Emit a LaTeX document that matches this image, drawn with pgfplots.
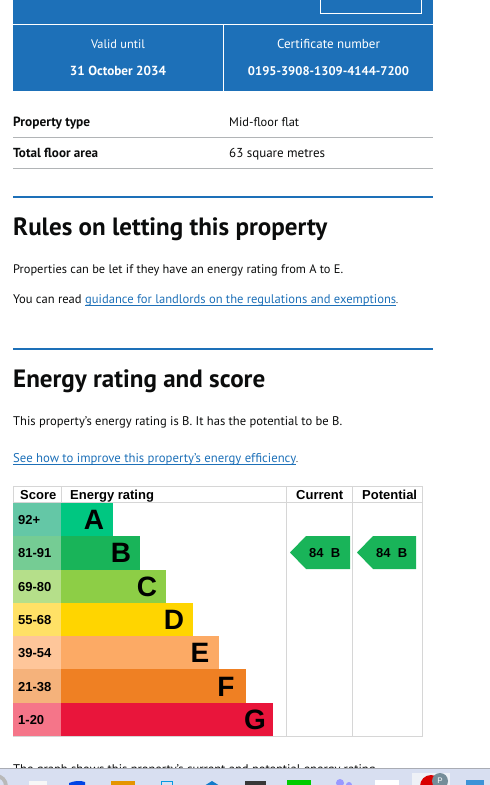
\documentclass[border=0pt]{standalone}
\usepackage{graphicx}
\usepackage{fontspec}
\setmainfont{PT Sans}
\newfontfamily\arial{Liberation Sans}
\usepackage{pgfplots}
\pgfplotsset{compat=1.18}
\definecolor{gblue}{HTML}{1D70B8}
\definecolor{gtext}{HTML}{0B0C0C}
\definecolor{ggrey}{HTML}{B1B4B6}
\definecolor{grid}{HTML}{D6D6D6}
\definecolor{dA}{HTML}{00C781}\definecolor{lA}{HTML}{64C7A6}
\definecolor{dB}{HTML}{19B459}\definecolor{lB}{HTML}{75CC94}
\definecolor{dC}{HTML}{8DCE46}\definecolor{lC}{HTML}{B5DF8A}
\definecolor{dD}{HTML}{FFD500}\definecolor{lD}{HTML}{FFE166}
\definecolor{dE}{HTML}{FCAA65}\definecolor{lE}{HTML}{FEC69A}
\definecolor{dF}{HTML}{EF8023}\definecolor{lF}{HTML}{F5B27B}
\definecolor{dG}{HTML}{E9153B}\definecolor{lG}{HTML}{F57589}
\definecolor{tbar}{HTML}{D8DFF1}
\definecolor{tline}{HTML}{A9ACB4}
% x, baseline y, target width, colour, font, text
\newcommand{\T}[6]{\node[anchor=base west,inner sep=0pt,text=#4] at (axis cs:#1,#2) {\resizebox{#3pt}{!}{#5#6}};}
\newcommand{\C}[6]{\node[anchor=base,inner sep=0pt,text=#4] at (axis cs:#1,#2) {\resizebox{#3pt}{!}{#5#6}};}
\newcommand{\A}[4]{\node[anchor=base west,inner sep=0pt,text=black] at (axis cs:#1,#2) {\arial\fontsize{#3}{#3}\selectfont\bfseries #4};}
\pgfplotsset{page/.style={hide axis,scale only axis,clip=true,y dir=reverse}}
\begin{document}
\begin{tikzpicture}[x=1pt,y=1pt]
\begin{axis}[page,at={(0pt,0pt)},anchor=south west,width=490pt,height=785pt,xmin=0,xmax=490,ymin=0,ymax=785]
% blue certificate banner
\fill[gblue] (axis cs:13,0) rectangle (axis cs:433,91);
\draw[white,line width=0.8pt] (axis cs:13,24.5) -- (axis cs:433,24.5);
\draw[white,line width=0.8pt] (axis cs:223.5,24.5) -- (axis cs:223.5,91);
\draw[white,line width=0.7pt] (axis cs:320.5,-2) -- (axis cs:320.5,13.5) -- (axis cs:421.5,13.5) -- (axis cs:421.5,-2);
\C{118}{48}{54}{white}{\fontsize{13}{13}\selectfont}{Valid until}
\C{118}{75}{96}{white}{\fontsize{13}{13}\selectfont\bfseries}{31 October 2034}
\C{328.5}{48}{103}{white}{\fontsize{13}{13}\selectfont}{Certificate number}
\C{328.5}{75}{161}{white}{\fontsize{13}{13}\selectfont\bfseries}{0195-3908-1309-4144-7200}
% property table
\T{13}{126}{77}{gtext}{\fontsize{13}{13}\selectfont\bfseries}{Property type}
\T{229}{126}{70}{gtext}{\fontsize{13}{13}\selectfont}{Mid-floor flat}
\draw[ggrey,line width=0.8pt] (axis cs:13,137.5) -- (axis cs:433,137.5);
\T{13}{157}{85}{gtext}{\fontsize{13}{13}\selectfont\bfseries}{Total floor area}
\T{229}{157}{96}{gtext}{\fontsize{13}{13}\selectfont}{63 square metres}
\draw[ggrey,line width=0.8pt] (axis cs:13,168.5) -- (axis cs:433,168.5);
% sections
\fill[gblue] (axis cs:13,196) rectangle (axis cs:433,198);
\T{13}{235}{314}{gtext}{\fontsize{24}{24}\selectfont\bfseries}{Rules on letting this property}
\T{13}{273}{330}{gtext}{\fontsize{13}{13}\selectfont}{Properties can be let if they have an energy rating from A to E.}
\T{13}{303}{68.5}{gtext}{\fontsize{13}{13}\selectfont}{You can read}
\T{85}{303}{311}{gblue}{\fontsize{13}{13}\selectfont}{guidance for landlords on the regulations and exemptions}
\T{396}{303}{2}{gtext}{\fontsize{13}{13}\selectfont}{.}
\draw[gblue,line width=0.7pt] (axis cs:85,305.5) -- (axis cs:396,305.5);
\fill[gblue] (axis cs:13,348) rectangle (axis cs:433,350);
\T{13}{387}{252}{gtext}{\fontsize{24}{24}\selectfont\bfseries}{Energy rating and score}
\T{13}{425}{329}{gtext}{\fontsize{13}{13}\selectfont}{This property’s energy rating is B. It has the potential to be B.}
\T{13}{462}{283}{gblue}{\fontsize{13}{13}\selectfont}{See how to improve this property’s energy efficiency}
\T{296}{462}{2}{gtext}{\fontsize{13}{13}\selectfont}{.}
\draw[gblue,line width=0.7pt] (axis cs:13,464.5) -- (axis cs:296,464.5);
% table grid of the EPC graph
\draw[grid,line width=0.8pt] (axis cs:13,486.5) -- (axis cs:423,486.5);
\draw[grid,line width=0.8pt] (axis cs:13,502.5) -- (axis cs:423,502.5);
\draw[grid,line width=0.8pt] (axis cs:13,736.5) -- (axis cs:423,736.5);
\draw[grid,line width=0.8pt] (axis cs:13,486) -- (axis cs:13,503);
\draw[grid,line width=0.8pt] (axis cs:61,486) -- (axis cs:61,503);
\draw[grid,line width=0.8pt] (axis cs:286.5,486) -- (axis cs:286.5,737);
\draw[grid,line width=1pt] (axis cs:352.5,486) -- (axis cs:352.5,737);
\draw[grid,line width=0.8pt] (axis cs:422.5,486) -- (axis cs:422.5,737);
\A{20}{499}{13}{Score}
\A{70}{499}{13}{Energy rating}
\A{296}{499}{13}{Current}
\A{362}{499}{13}{Potential}
% current and potential pointers
\addplot[fill=dB,draw=none] coordinates {(290,552.5)(306,536)(350,536)(350,569)(306,569)} -- cycle;
\addplot[fill=dB,draw=none] coordinates {(357,552.5)(373,536)(416,536)(416,569)(373,569)} -- cycle;
\A{309}{557}{13}{84\ \ B}
\A{376}{557}{13}{84\ \ B}
% clipped line of text and taskbar
\T{13}{773}{365}{gtext}{\fontsize{13}{13}\selectfont}{The graph shows this property’s current and potential energy rating.}
\fill[tbar] (axis cs:0,768) rectangle (axis cs:490,786);
\fill[tline] (axis cs:0,768) rectangle (axis cs:490,769);
\fill[gray!55!white] (axis cs:-4,786) circle[radius=12];
\fill[tbar] (axis cs:-4,786) circle[radius=8];
\fill[black!3] (axis cs:29,781) rectangle (axis cs:47,786);
\fill[blue!70!cyan!90!black] (axis cs:69,783) .. controls (axis cs:74,781) and (axis cs:80,780) .. (axis cs:85,782) -- (axis cs:85,786) -- (axis cs:69,786) -- cycle;
\fill[orange!70!yellow!90!black] (axis cs:111,781) rectangle (axis cs:135,786);
\draw[cyan!85!blue,line width=1pt] (axis cs:161,786) -- (axis cs:161,781.5) -- (axis cs:172,781.5) -- (axis cs:172,786);
\fill[cyan!60!blue] (axis cs:204,786) -- (axis cs:212,781) -- (axis cs:220,786) -- cycle;
\fill[black!78] (axis cs:245,781) rectangle (axis cs:266,786);
\fill[green!80!black] (axis cs:287,780) rectangle (axis cs:311,786);
\fill[blue!40!white] (axis cs:340,783) circle[radius=4];
\fill[blue!40!white] (axis cs:349,785) circle[radius=3];
\fill[white] (axis cs:375,780) rectangle (axis cs:399,786);
\fill[black!4!tbar!35!white] (axis cs:412,773) rectangle (axis cs:450,786);
\fill[red!85!black] (axis cs:431,786) circle[radius=11];
\fill[gray!70!cyan!85!black] (axis cs:440,781) circle[radius=8];
\node[text=white,inner sep=0pt] at (axis cs:440,781) {\arial\fontsize{8}{8}\selectfont P};
\fill[cyan!65!blue!80!white] (axis cs:466,780) rectangle (axis cs:484,786);
\end{axis}
% Score cells
\begin{axis}[hide axis,scale only axis,at={(13pt,49pt)},anchor=south west,width=48pt,height=233pt,xmin=0,xmax=48,ymin=0.5,ymax=7.5,y dir=reverse,xbar,bar width=33.3pt,bar shift=0pt]
\addplot[fill=lA,draw=none] coordinates {(48,1)};
\addplot[fill=lB,draw=none] coordinates {(48,2)};
\addplot[fill=lC,draw=none] coordinates {(48,3)};
\addplot[fill=lD,draw=none] coordinates {(48,4)};
\addplot[fill=lE,draw=none] coordinates {(48,5)};
\addplot[fill=lF,draw=none] coordinates {(48,6)};
\addplot[fill=lG,draw=none] coordinates {(48,7)};
\A{5}{1.15}{13}{92+}
\A{5}{2.15}{13}{81-91}
\A{5}{3.15}{13}{69-80}
\A{5}{4.15}{13}{55-68}
\A{5}{5.15}{13}{39-54}
\A{5}{6.15}{13}{21-38}
\A{5}{7.15}{13}{1-20}
\end{axis}
% Rating bars
\begin{axis}[hide axis,scale only axis,at={(61pt,49pt)},anchor=south west,width=212pt,height=233pt,xmin=0,xmax=212,ymin=0.5,ymax=7.5,y dir=reverse,xbar,bar width=33.3pt,bar shift=0pt]
\addplot[fill=dA,draw=none] coordinates {(52,1)};
\addplot[fill=dB,draw=none] coordinates {(79,2)};
\addplot[fill=dC,draw=none] coordinates {(105,3)};
\addplot[fill=dD,draw=none] coordinates {(132,4)};
\addplot[fill=dE,draw=none] coordinates {(158,5)};
\addplot[fill=dF,draw=none] coordinates {(185,6)};
\addplot[fill=dG,draw=none] coordinates {(212,7)};
\newcommand{\Lt}[3]{\node[anchor=base,inner sep=0pt,text=black] at (axis cs:#1,#2) {\arial\fontsize{28}{28}\selectfont\bfseries #3};}
\Lt{33}{1.30}{A}
\Lt{60}{2.30}{B}
\Lt{86}{3.30}{C}
\Lt{113}{4.30}{D}
\Lt{139}{5.30}{E}
\Lt{165}{6.30}{F}
\Lt{194}{7.30}{G}
\end{axis}
\end{tikzpicture}
\end{document}
